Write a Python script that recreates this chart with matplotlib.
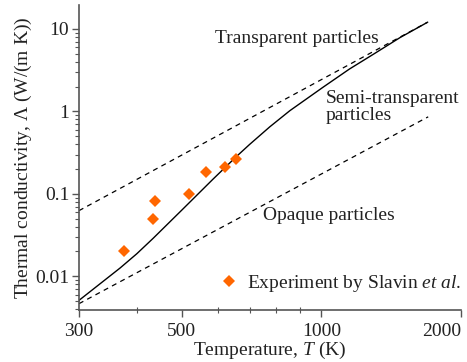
import numpy as np
import matplotlib
matplotlib.use("Agg")
import matplotlib.pyplot as plt

# フォント設定 (Times風).
plt.rcParams['font.family'] = ['Liberation Serif', 'DejaVu Serif']
plt.rcParams['mathtext.fontset'] = 'custom'
plt.rcParams['mathtext.rm'] = 'Liberation Serif'
plt.rcParams['mathtext.it'] = 'Liberation Serif:italic'
plt.rcParams['font.size'] = 14

# 実験データ (Slavin et al.).
exp_T = [375, 434, 438, 519, 563, 619, 654]
exp_L = [0.020, 0.050, 0.081, 0.100, 0.184, 0.212, 0.262]

# 半透明粒子モデル.
semi_T = [300, 368, 400, 434, 500, 584, 656, 700, 774, 855, 1009, 1150, 1292, 1480, 1687]
semi_L = [0.0051, 0.0126, 0.0188, 0.029, 0.0635, 0.151, 0.284, 0.397, 0.65, 1.02, 1.97,
          3.27, 4.9, 7.9, 11.9]

# 透明粒子・不透明粒子 (両端点).
trans_T = [300, 1700]
trans_L = [0.0625, 12.2]
opaque_T = [300, 1700]
opaque_L = [0.00465, 0.86]

xticks = [300, 500, 1000, 2000]
yticks = [0.01, 0.1, 1, 10]
ytick_labels = ["0.01", "0.1", "1", "10"]

txt = "#222222"
spine_c = "#555555"

fig = plt.figure(figsize=(4.67, 3.62), dpi=100)
ax = fig.add_axes([0.169, 0.1436, 0.818, 0.8424])

ax.plot(trans_T, trans_L, color="k", lw=0.9, linestyle=(0, (4, 3.5)))
ax.plot(opaque_T, opaque_L, color="k", lw=0.9, linestyle=(0, (4, 3.5)))
ax.plot(semi_T, semi_L, color="k", lw=1.0)
ax.plot(exp_T, exp_L, linestyle="none", marker="D", markersize=6.5,
        color="#ff6600", markeredgewidth=0, label=r"Experiment by Slavin $\it{et\ al}$.")

ax.set_xscale("log")
ax.set_yscale("log")
ax.set_xlim(300, 2000)
ax.set_ylim(0.0039, 19.5)

ax.set_xticks(xticks)
ax.set_xticklabels([str(v) for v in xticks])
ax.get_xticklabels()[-1].set_ha("right")
ax.set_xticks([400, 600, 700, 800, 900], minor=True)
ax.xaxis.set_minor_formatter(matplotlib.ticker.NullFormatter())
ax.set_yticks(yticks)
ax.set_yticklabels(ytick_labels)
ax.yaxis.set_minor_locator(matplotlib.ticker.LogLocator(base=10, subs=np.arange(2, 10)))
ax.yaxis.set_minor_formatter(matplotlib.ticker.NullFormatter())

for s in ["top", "right"]:
    ax.spines[s].set_visible(False)
for s in ["left", "bottom"]:
    ax.spines[s].set_color(spine_c)
    ax.spines[s].set_linewidth(1.2)

ax.tick_params(which="major", direction="out", length=5, width=1, color=spine_c,
               labelcolor=txt, labelsize=14, pad=2)
ax.tick_params(axis="x", which="major", pad=4)
ax.tick_params(axis="y", which="minor", direction="out", length=3, width=0.8, color=spine_c)
ax.tick_params(axis="x", which="minor", direction="inout", length=4, width=0.8, color=spine_c)

ax.set_xlabel(r"Temperature, $\it{T}$ (K)", color=txt, fontsize=14, labelpad=0)
ax.set_ylabel(r"Thermal conductivity, $\it{\Lambda}$ (W/(m K))", color=txt, fontsize=14, labelpad=1)

ax.text(0.356, 0.889, "Transparent particles", transform=ax.transAxes, color=txt,
        fontsize=14, va="center", ha="left")
ax.text(0.647, 0.666, "Semi-transparent\nparticles", transform=ax.transAxes, color=txt,
        fontsize=14, va="center", ha="left", linespacing=1.0)
ax.text(0.4825, 0.311, "Opaque particles", transform=ax.transAxes, color=txt,
        fontsize=14, va="center", ha="left")

leg = ax.legend(loc="center right", bbox_to_anchor=(1.0, 0.0875), frameon=False,
                handlelength=0.8, handletextpad=0.5, borderaxespad=0, borderpad=0,
                numpoints=1, fontsize=14)
for t in leg.get_texts():
    t.set_color(txt)

plt.savefig("out.png", dpi=100)
